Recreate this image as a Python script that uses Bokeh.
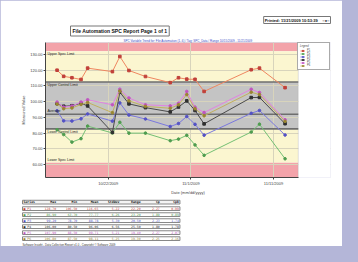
import numpy as np
from bokeh.plotting import figure
from bokeh.models import (Range1d, BoxAnnotation, Label, Legend, LegendItem,
                          FixedTicker, NumeralTickFormatter, Title)
from bokeh.embed import file_html
from bokeh.resources import INLINE

# ---------------- data ----------------
days = [-6.2, -5.4, -4.4, -3.3, -2.5, 0.5, 1.4, 2.5, 4.5, 7.5, 8.5, 9.5, 10.5, 11.6, 17.3, 18.3, 21.4]
series_names = ["P1", "P2", "P3", "P4", "P5", "P6"]
s_red = [120.0, 116.1, 115.2, 114.1, 121.3, 119.1, 128.7, 119.8, 116.0, 112.1, 115.2, 114.3, 114.2, 106.5, 120.3, 121.3, 108.9]
s_green = [82.2, 79.1, 74.3, 76.5, 84.5, 80.1, 86.9, 80.0, 80.0, 75.2, 76.2, 78.6, 72.5, 65.9, 80.7, 85.7, 63.7]
s_blue = [94.2, 87.8, 87.7, 89.1, 92.2, 87.6, 99.2, 91.5, 89.0, 84.2, 86.1, 90.6, 85.6, 78.7, 92.6, 94.4, 78.8]
s_black = [98.7, 97.1, 97.4, 99.0, 97.3, 80.5, 106.0, 98.6, 96.2, 93.5, 96.6, 100.5, 94.4, 85.9, 102.6, 102.7, 86.0]
s_pink = [99.7, 96.5, 97.2, 99.7, 101.2, 98.0, 107.9, 102.3, 98.0, 97.3, 99.0, 106.5, 96.5, 93.1, 107.9, 105.8, 88.5]
s_olive = [98.5, 95.5, 96.0, 98.2, 99.5, 93.0, 106.8, 100.5, 97.0, 95.8, 98.0, 104.5, 95.5, 91.0, 106.0, 104.5, 87.5]

usl, ucl, center, lcl, lsl = 132.1, 112.5, 92.0, 82.7, 61.1
limit_labels = ["Upper Spec Limit", "Upper Control Limit", "Average", "Lower Control Limit", "Lower Spec Limit"]
y_ticks = [60, 70, 80, 90, 100, 110, 120, 130]
x_ticks = [0, 10, 20]
x_tick_labels = ["10/22/2009", "11/1/2009", "11/11/2009"]
table_headers = ["Series", "Max", "Min", "Mean", "StdDev", "Range", "Cp", "Cpk"]
x_start, chart_end, legend_room_end = -7.6, 23.0, 26.9
y_start, y_end = 51.8, 137.6

report_title = "File Automation SPC Report Page 1 of 1"
printed_text = "Printed: 11/21/2009 10:53:39"
sub_title = "SPC Variable Trend for: File Automation (1..6) / Tag: SPC_Data / Range 10/15/2009 - 11/21/2009"
footer_text = "Software Insight - Data Collection Report v1.0  -  Copyright © Software 2009"

FONT = "Liberation Sans"
MONO = "DejaVu Sans Mono"
NB = "\u00a0"

colors = ["#ef8660", "#74c074", "#7a78de", "#4a4a4a", "#e282e2", "#c2b060"]
mcolors = ["#c0403a", "#4f9c4f", "#5452c4", "#303030", "#c055c0", "#9a8630"]
markers = ["square", "circle", "circle", "square", "circle", "circle"]

p = figure(width=342, height=246, output_backend="svg", toolbar_location=None,
           x_range=Range1d(x_start, legend_room_end), y_range=Range1d(y_start, y_end),
           min_border_left=45, min_border_right=12, min_border_top=42, min_border_bottom=58,
           border_fill_color="#ffffff", background_fill_color="#ffffff",
           outline_line_color=None)

# ---- zones ----
def zone(bottom=None, top=None, color="#ffffff"):
    kw = dict(right=chart_end, fill_color=color, fill_alpha=1, line_alpha=0, level="image")
    if bottom is not None:
        kw["bottom"] = bottom
    if top is not None:
        kw["top"] = top
    p.add_layout(BoxAnnotation(**kw))

zone(bottom=usl, color="#f3a3aa")
zone(bottom=ucl, top=usl, color="#fbf6d0")
zone(bottom=lcl, top=ucl, color="#c4c4c4")
zone(bottom=lsl, top=lcl, color="#fbf6d0")
zone(top=lsl, color="#f3a3aa")

p.xgrid.grid_line_color = "#d8d4bc"
p.ygrid.grid_line_color = "#d8d4bc"
p.xgrid.level = "underlay"
p.ygrid.level = "underlay"
# blank paper to the right of the chart (room for the legend)
p.add_layout(BoxAnnotation(left=chart_end, fill_color="#ffffff", fill_alpha=1, line_alpha=0, level="underlay"))
# chart outline
p.add_layout(BoxAnnotation(right=chart_end, fill_alpha=0, line_color="#9a9a9a", line_width=1, level="underlay"))

lim = [ucl, center, lcl]
p.segment(x0=[x_start] * 3, x1=[chart_end] * 3, y0=lim, y1=lim, line_color="#6e6e6e", line_width=1.6)

for yv, txt, base in zip([usl, ucl, center, lcl, lsl], limit_labels,
                         ["top", "top", "bottom", "top", "bottom"]):
    p.add_layout(Label(x=x_start, y=yv, x_offset=2, text=txt, text_font=FONT, text_font_size="3.5px",
                       text_baseline=base, text_color="#222222",
                       y_offset=-1 if base == "top" else 1))

# ---- axes ----
p.yaxis.ticker = FixedTicker(ticks=y_ticks)
p.yaxis.formatter = NumeralTickFormatter(format="0.00")
p.xaxis.ticker = FixedTicker(ticks=x_ticks)
p.xaxis.major_label_overrides = {t: l for t, l in zip(x_ticks, x_tick_labels)}
p.xaxis.bounds = (x_start, chart_end)
for ax in (p.xaxis[0], p.yaxis[0]):
    ax.major_label_text_font = FONT
    ax.major_label_text_font_size = "4px"
    ax.axis_label_text_font = FONT
    ax.axis_label_text_font_size = "4px"
    ax.axis_label_text_font_style = "normal"
    ax.axis_line_color = "#444444"
    ax.major_tick_line_color = "#444444"
    ax.major_tick_out = 2
    ax.major_tick_in = 0
    ax.minor_tick_line_color = None
    ax.axis_label_standoff = 1
    ax.major_label_standoff = 1
p.yaxis.axis_label = "Measured Value"
p.xaxis.axis_label = "Date (mm/dd/yyyy)"

# ---- series ----
data = [s_red, s_green, s_blue, s_black, s_pink, s_olive]
items, rows = [], []
for name, c, m, mc, ys in zip(series_names, colors, markers, mcolors, data):
    r1 = p.line(days, ys, line_color=c, line_width=1.0)
    r2 = p.scatter(days, ys, marker=m, size=2.6, fill_color=mc, line_color=mc)
    items.append(LegendItem(label=name, renderers=[r1, r2]))
    a = np.array(ys)
    sd = a.std(ddof=1)
    mean = a.mean()
    cp = (usl - lsl) / (6 * sd)
    cpk = min(usl - mean, mean - lsl) / (3 * sd)
    rows.append(f"■ {name:<4}{a.max():>11.2f}{a.min():>11.2f}{mean:>11.2f}{sd:>11.2f}"
                f"{a.max() - a.min():>11.2f}{cp:>10.2f}{cpk:>10.2f}")

leg = Legend(items=items, location="top_right", label_text_font=FONT, label_text_font_size="2.6px",
             glyph_height=3, glyph_width=5, label_height=3, label_standoff=2, spacing=0,
             padding=2, margin=0, border_line_color="#555555", border_line_width=1,
             background_fill_color="#ffffff", title="Legend", title_text_font_size="2.6px",
             title_text_font=FONT, title_standoff=1)
p.add_layout(leg)

# ---- titles above (first added sits nearest the chart) ----
p.add_layout(Title(text=sub_title, align="center", offset=-20, text_font=FONT, text_font_size="3px",
                   text_font_style="normal", text_color="#3a4fc8", standoff=1), "above")
p.add_layout(Title(text=report_title, align="left", offset=25, text_font=FONT,
                   text_font_size="5px", text_font_style="bold", text_color="#111111",
                   border_line_color="#777777", background_fill_color="#ffffff",
                   padding=2, standoff=1), "above")
p.add_layout(Title(text=printed_text + NB * 4 + "○●○", align="right", offset=0, text_font=FONT,
                   text_font_size="4px", text_font_style="bold", text_color="#111111",
                   border_line_color="#777777", background_fill_color="#ffffff",
                   padding=1, standoff=0), "above")

# ---- summary table below the axis ----
hdr = f"{table_headers[0]:<6}" + "".join(f"{h:>11}" for h in table_headers[1:6]) + \
      "".join(f"{h:>10}" for h in table_headers[6:])
p.add_layout(Title(text=hdr.replace(" ", NB), align="left", offset=-23, text_font=MONO,
                   text_font_size="3.2px", text_font_style="bold", text_color="#111111",
                   border_line_color="#888888", background_fill_color="#f4f4f4",
                   padding=(1, 0), standoff=1), "below")
for row, mc in zip(rows, mcolors):
    p.add_layout(Title(text=row.replace(" ", NB), align="left", offset=-23, text_font=MONO,
                       text_font_size="3.2px", text_font_style="normal", text_color=mc,
                       border_line_color="#888888", background_fill_color="#ffffff",
                       padding=(1, 0), standoff=0), "below")
p.add_layout(Title(text=footer_text, align="left", offset=-23, text_font=FONT, text_font_size="2.8px",
                   text_font_style="normal", text_color="#333333", standoff=1), "below")

html = file_html(p, INLINE)
html = html.replace("</head>", "<style>html, body { background: #b4b6d8; }</style></head>", 1)
open("out.html", "w").write(html)
